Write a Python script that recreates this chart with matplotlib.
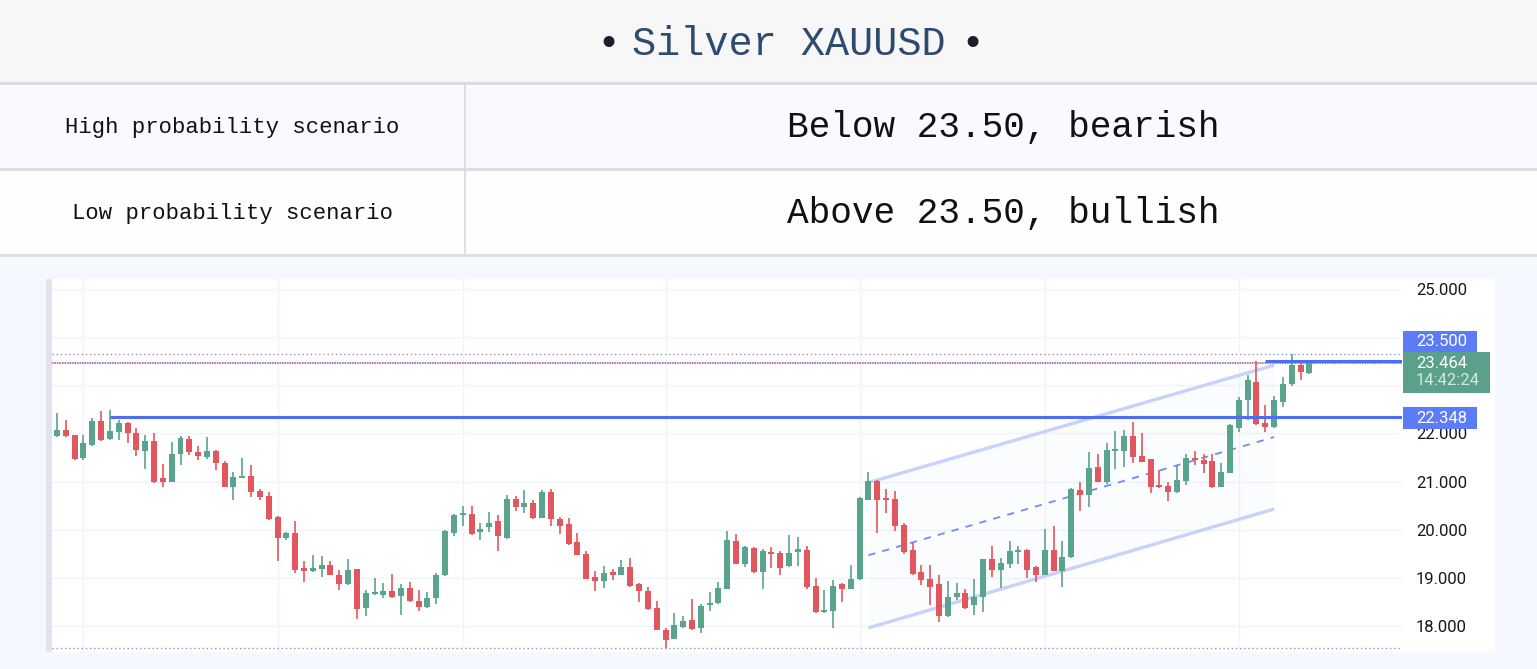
import numpy as np
import matplotlib.pyplot as plt
from matplotlib.patches import Rectangle
import matplotlib.transforms as mtransforms

plt.rcParams['font.family'] = ['Roboto', 'DejaVu Sans']

title = "Silver XAUUSD"
scenario_names = ["High probability scenario", "Low probability scenario"]
scenario_texts = ["Below 23.50, bearish", "Above 23.50, bullish"]

# daily candles, oldest first
opens = [
    21.94, 22.08, 21.97, 21.49, 21.76, 22.26, 21.88, 22.03, 22.21, 22.01,
    21.63, 21.85, 21.07, 21.00, 21.58, 21.88, 21.61, 21.51, 21.63, 21.39,
    20.89, 21.08, 21.11, 20.80, 20.71, 20.26, 19.83, 19.93, 19.20, 19.15,
    19.19, 19.27, 19.07, 18.88, 19.19, 18.37, 18.66, 18.65, 18.72, 18.63,
    18.80, 18.53, 18.39, 18.58, 19.05, 19.93, 20.30, 20.33, 19.95, 20.05,
    20.18, 19.83, 20.63, 20.48, 20.56, 20.25, 20.78, 20.23, 20.12, 19.74,
    19.50, 19.02, 18.93, 19.12, 19.06, 19.22, 18.88, 18.72, 18.38, 17.92,
    17.73, 17.98, 18.13, 17.96, 18.43, 18.47, 18.77, 19.76, 19.29, 19.62,
    19.12, 19.53, 19.52, 19.24, 19.53, 19.58, 18.84, 18.29, 18.31, 18.88,
    18.77, 18.97, 20.62, 21.02, 20.64, 20.64, 20.09, 19.57, 19.12, 18.98,
    18.88, 18.20, 18.61, 18.68, 18.43, 18.61, 19.39, 19.17, 19.29, 19.53,
    19.58, 19.22, 19.07, 19.57, 19.15, 19.43, 20.83, 20.73, 21.31, 20.99,
    21.63, 21.63, 21.94, 21.54, 21.46, 20.92, 20.90, 20.78, 21.02, 21.49,
    21.45, 21.43, 20.89, 21.18, 22.11, 22.69, 23.08, 22.21, 22.13, 22.65,
    23.02, 23.43, 23.25]
highs = [
    22.43, 22.27, 21.97, 21.97, 22.33, 22.46, 22.49, 22.27, 22.24, 22.12,
    21.97, 22.00, 21.37, 21.83, 21.94, 21.94, 21.74, 21.92, 21.66, 21.42,
    21.20, 21.50, 21.34, 20.85, 20.78, 20.28, 19.95, 20.18, 19.36, 19.47,
    19.45, 19.36, 19.17, 19.39, 19.19, 18.75, 19.00, 18.89, 19.08, 18.88,
    18.91, 18.75, 18.70, 19.10, 20.00, 20.33, 20.50, 20.50, 20.14, 20.37,
    20.31, 20.73, 20.71, 20.83, 20.61, 20.82, 20.85, 20.26, 20.25, 19.93,
    19.55, 19.14, 19.25, 19.19, 19.38, 19.42, 18.90, 18.81, 18.51, 17.96,
    18.27, 18.21, 18.57, 18.46, 18.70, 18.91, 19.98, 19.92, 19.67, 19.64,
    19.60, 19.64, 19.55, 19.89, 19.85, 19.67, 19.00, 18.75, 18.95, 18.89,
    19.27, 20.69, 21.21, 21.04, 20.85, 20.80, 20.14, 19.72, 19.27, 19.27,
    19.07, 18.93, 18.89, 18.77, 18.98, 19.39, 19.67, 19.42, 19.76, 19.66,
    19.60, 19.24, 20.02, 20.07, 19.76, 20.87, 20.99, 21.61, 21.58, 21.80,
    22.05, 22.08, 22.24, 22.01, 21.47, 21.25, 20.99, 21.34, 21.58, 21.63,
    21.58, 21.58, 21.39, 22.19, 22.75, 23.22, 23.50, 22.60, 22.77, 23.18,
    23.66, 23.52, 23.48]
lows = [
    21.92, 21.92, 21.45, 21.44, 21.75, 21.84, 21.87, 21.87, 21.81, 21.54,
    21.27, 20.97, 20.89, 20.99, 21.35, 21.56, 21.45, 21.48, 21.25, 20.89,
    20.62, 21.07, 20.68, 20.62, 20.21, 19.36, 19.78, 19.10, 18.91, 19.12,
    19.02, 19.06, 18.74, 18.86, 18.15, 18.20, 18.65, 18.59, 18.59, 18.23,
    18.50, 18.31, 18.38, 18.45, 19.04, 19.87, 20.07, 19.90, 19.78, 19.96,
    19.56, 19.80, 20.40, 20.34, 20.23, 20.24, 20.07, 19.92, 19.69, 19.47,
    18.98, 18.72, 18.79, 18.96, 19.05, 18.82, 18.50, 18.34, 17.92, 17.54,
    17.72, 17.96, 17.92, 17.85, 18.32, 18.46, 18.76, 19.28, 19.22, 19.10,
    18.77, 19.21, 19.07, 19.23, 19.24, 18.77, 18.28, 18.28, 17.96, 18.50,
    18.76, 18.96, 20.61, 19.93, 20.34, 19.98, 19.50, 19.07, 18.86, 18.44,
    18.08, 18.19, 18.54, 18.36, 18.22, 18.29, 19.02, 18.79, 19.20, 19.29,
    19.00, 18.91, 19.06, 19.14, 18.82, 19.42, 20.39, 20.47, 21.00, 20.95,
    21.27, 21.30, 21.38, 21.40, 20.76, 20.87, 20.59, 20.77, 20.92, 21.35,
    21.18, 20.86, 20.88, 21.17, 22.03, 22.27, 22.17, 22.03, 22.12, 22.55,
    22.98, 23.12, 23.24]
closes = [
    22.08, 21.94, 21.47, 21.80, 22.26, 21.87, 22.05, 22.21, 22.01, 21.65,
    21.85, 20.99, 21.00, 21.58, 21.91, 21.61, 21.54, 21.63, 21.38, 20.89,
    21.09, 21.11, 20.78, 20.68, 20.23, 19.83, 19.93, 19.17, 19.15, 19.20,
    19.27, 19.07, 18.88, 19.17, 18.36, 18.68, 18.68, 18.72, 18.60, 18.80,
    18.51, 18.39, 18.59, 19.05, 19.98, 20.31, 20.33, 19.92, 20.02, 20.14,
    19.86, 20.63, 20.48, 20.55, 20.25, 20.78, 20.23, 20.07, 19.71, 19.48,
    18.98, 18.93, 19.11, 19.06, 19.22, 18.84, 18.72, 18.36, 17.92, 17.71,
    18.02, 18.10, 17.94, 18.41, 18.48, 18.79, 19.79, 19.29, 19.65, 19.12,
    19.55, 19.50, 19.20, 19.51, 19.60, 18.82, 18.29, 18.32, 18.84, 18.77,
    18.97, 20.66, 21.02, 20.61, 20.61, 20.07, 19.53, 19.08, 18.96, 18.82,
    18.20, 18.60, 18.68, 18.38, 18.60, 19.39, 19.17, 19.31, 19.55, 19.58,
    19.17, 19.07, 19.58, 19.15, 19.44, 20.85, 20.73, 21.29, 21.00, 21.65,
    21.67, 21.94, 21.52, 21.40, 20.89, 20.89, 20.78, 21.04, 21.49, 21.45,
    21.36, 20.89, 21.20, 22.17, 22.70, 23.11, 22.19, 22.13, 22.70, 23.02,
    23.43, 23.27, 23.464]

month_starts = [3, 25, 46, 69, 91, 112, 134]
price_ticks = [18, 19, 20, 21, 22, 23, 24, 25]
# 23 and 24 sit under the price boxes on the scale
hidden_ticks = [23, 24]

support = 22.348
support_from = 6
resistance = 23.5
resistance_from = 137
# parallel channel: (start bar, end bar), upper and lower prices
chan_x = [92, 138]
chan_upper = [20.98, 23.42]
chan_lower = [17.96, 20.43]
clock = "14:42:24"

GREEN = '#5AA38C'
RED = '#E2575D'
BLUE = '#4D6DF3'
BOX_BLUE = '#5B7CF6'
BOX_GREEN = '#5AA08A'
mono = 'Liberation Mono'

W, H = 1537, 669
fig = plt.figure(figsize=(W / 100, H / 100), dpi=100)
fig.patch.set_facecolor('#F5F8FE')

# page / table layer in pixel coordinates
bg = fig.add_axes([0, 0, 1, 1])
bg.set_xlim(0, W)
bg.set_ylim(H, 0)
bg.axis('off')
bg.add_patch(Rectangle((0, 0), W, 83, color='#F7F7F7', lw=0))
bg.add_patch(Rectangle((0, 83), W, 86, color='#F8FAFF', lw=0))
bg.add_patch(Rectangle((0, 169), W, 86, color='#FEFEFE', lw=0))
for yy in (83, 169, 255):
    bg.plot([0, W], [yy, yy], color='#DCDCDC', lw=2)
bg.plot([465, 465], [83, 255], color='#D9D9D9', lw=1.2)

bg.text(789, 44, title, ha='center', va='center', fontsize=29, family=mono, color='#2D4B6E')
bg.text(608, 44, '\u2022', ha='center', va='center', fontsize=29, family=mono, color='#1C1C2A')
bg.text(972, 44, '\u2022', ha='center', va='center', fontsize=29, family=mono, color='#1C1C2A')
for yy, name, txt in zip([127, 213], scenario_names, scenario_texts):
    bg.text(232, yy, name, ha='center', va='center', fontsize=16, family=mono, color='#111111')
    bg.text(1003, yy, txt, ha='center', va='center', fontsize=26, family=mono, color='#111111')

# chart pane
L, R, T, B = 52, 1402, 279, 652
bg.add_patch(Rectangle((46, T), 1449, B - T, color='white', lw=0))
bg.add_patch(Rectangle((46, T), 6, B - T, color='#E1E4EC', lw=0))

ax = fig.add_axes([L / W, 1 - B / H, (R - L) / W, (B - T) / H])
ax.set_facecolor('none')
ax.set_xlim(-0.57, 152.5)
ax.set_ylim(17.46, 25.21)
for s in ax.spines.values():
    s.set_visible(False)
ax.set_xticks(month_starts)
ax.set_yticks(price_ticks)
ax.set_yticklabels(["" if p in hidden_ticks else f"{p:.3f}" for p in price_ticks])
ax.tick_params(axis='x', length=0, labelbottom=False)
ax.yaxis.tick_right()
ax.tick_params(axis='y', length=0, pad=10, labelsize=12, labelcolor='#131722')
ax.grid(color='#F0F3FA', lw=1)
ax.set_axisbelow(True)

o = np.array(opens)
h = np.array(highs)
l = np.array(lows)
c = np.array(closes)
x = np.arange(len(o))
cols = np.where(c >= o, GREEN, RED)
ax.vlines(x, l, h, colors=cols, lw=1.2, zorder=3)
ax.bar(x, np.maximum(np.abs(c - o), 0.04), bottom=np.minimum(o, c), width=0.68,
       color=cols, lw=0, zorder=4)

x_right = ax.get_xlim()[1]
# visible range high / low
ax.axhline(h.max(), color='#9598A1', lw=1, ls=(0, (1, 2)), zorder=2)
ax.axhline(l.min(), color='#9598A1', lw=1, ls=(0, (1, 2)), zorder=2)
# last price line
ax.axhline(c[-1], color='#E05A6A', lw=1.2, ls=(0, (1, 2)), zorder=2)
ax.axhline(c[-1], color='#5B6CF0', lw=1.2, ls=(1.5, (1, 2)), zorder=2)

ax.hlines(support, support_from, x_right, color=BLUE, lw=2.2, zorder=5)
ax.hlines(resistance, resistance_from, x_right, color=BLUE, lw=2.2, zorder=5)

mid = [(a + b) / 2 for a, b in zip(chan_upper, chan_lower)]
ax.fill_between(chan_x, chan_lower, chan_upper, color='#4D6DF3', alpha=0.02, lw=0, zorder=1)
ax.plot(chan_x, chan_upper, color='#C8D2FA', lw=2.4, zorder=2, solid_capstyle='butt')
ax.plot(chan_x, chan_lower, color='#C8D2FA', lw=2.4, zorder=2, solid_capstyle='butt')
ax.plot(chan_x, mid, color='#6F8CF6', lw=1.3, ls=(0, (4, 4)), zorder=2)

# price scale labels
dpp = (ax.get_ylim()[1] - ax.get_ylim()[0]) / (B - T)   # price per pixel
fpx = 1 / (R - L)                                           # axes fraction per pixel
trans = mtransforms.blended_transform_factory(ax.transAxes, ax.transData)
lab_x = 1 + 14 * fpx

g_top = c[-1] + 11 * dpp
g_bot = g_top - 41 * dpp
ax.add_patch(Rectangle((1 + fpx, g_bot), 87 * fpx, g_top - g_bot, transform=trans,
                       color=BOX_GREEN, clip_on=False, zorder=10, lw=0))
ax.text(lab_x, c[-1] - 0.5 * dpp, f"{c[-1]:.3f}", transform=trans, va='center', ha='left',
        fontsize=12, color='white', zorder=11, clip_on=False)
ax.text(lab_x, c[-1] - 17 * dpp, clock, transform=trans, va='center', ha='left',
        fontsize=12, color='#D3EAE2', zorder=11, clip_on=False)

r_bot = g_top
r_top = r_bot + 21.5 * dpp
ax.add_patch(Rectangle((1 + fpx, r_bot), 74 * fpx, r_top - r_bot, transform=trans,
                       color=BOX_BLUE, clip_on=False, zorder=10, lw=0))
ax.text(lab_x, (r_bot + r_top) / 2, f"{resistance:.3f}", transform=trans, va='center',
        ha='left', fontsize=12, color='white', zorder=11, clip_on=False)

s_mid = support - 1.3 * dpp
ax.add_patch(Rectangle((1 + fpx, s_mid - 11.3 * dpp), 74 * fpx, 22.6 * dpp, transform=trans,
                       color=BOX_BLUE, clip_on=False, zorder=10, lw=0))
ax.text(lab_x, s_mid, f"{support:.3f}", transform=trans, va='center', ha='left',
        fontsize=12, color='white', zorder=11, clip_on=False)

fig.savefig('out.png', dpi=100, facecolor=fig.get_facecolor())
